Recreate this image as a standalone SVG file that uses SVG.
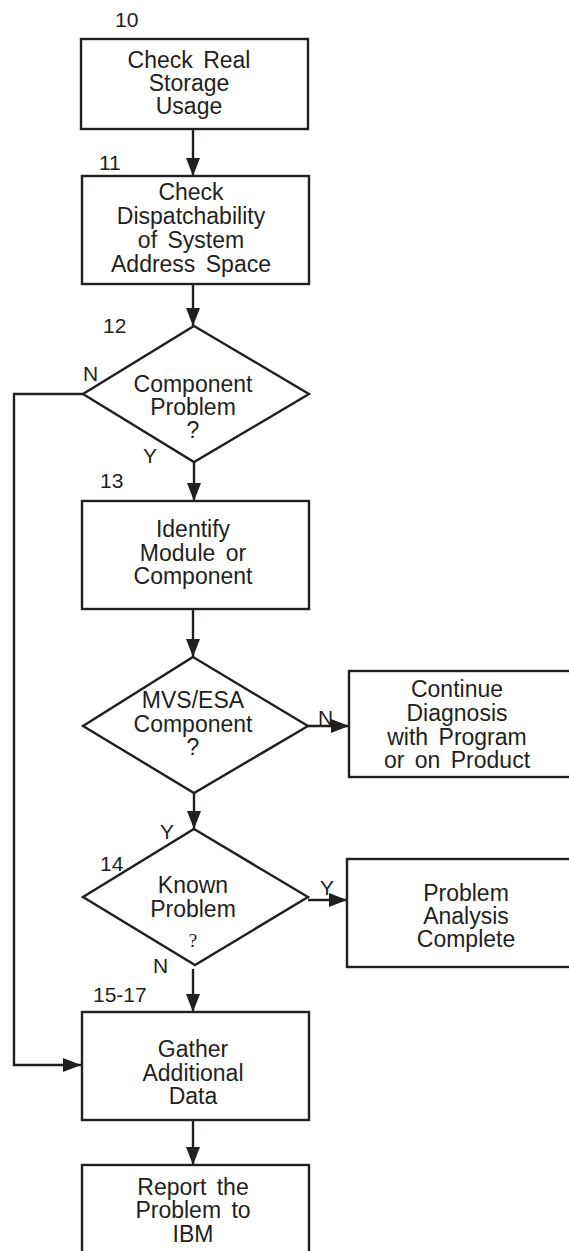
<svg xmlns="http://www.w3.org/2000/svg" width="569" height="1251" viewBox="0 0 569 1251">
<style>
  .shape { fill: #fff; stroke: #231f20; stroke-width: 2.4; }
  .conn { fill: none; stroke: #231f20; stroke-width: 2.4; }
  text { font-family: "Liberation Sans", Arial, sans-serif; font-size: 23px; fill: #231f20; }
  .c { text-anchor: middle; word-spacing: 4px; }
  .lbl { font-size: 21px; }
  .q2 { font-family: "Liberation Serif", serif; font-size: 19px; }
</style>
<defs>
  <marker id="ah" markerUnits="userSpaceOnUse" markerWidth="18" markerHeight="14" refX="18" refY="7" orient="auto">
    <path d="M0,0 L18,7 L0,14 z" fill="#231f20"/>
  </marker>
</defs>
<rect width="569" height="1251" fill="#fff"/>

<g id="connectors">
  <line class="conn" x1="193" y1="129" x2="193" y2="176" marker-end="url(#ah)"/>
  <line class="conn" x1="193" y1="284" x2="193" y2="326" marker-end="url(#ah)"/>
  <line class="conn" x1="194" y1="462" x2="194" y2="501" marker-end="url(#ah)"/>
  <polyline class="conn" points="83,394 14,394 14,1065 81,1065" marker-end="url(#ah)"/>
  <line class="conn" x1="193" y1="609" x2="193" y2="657" marker-end="url(#ah)"/>
  <line class="conn" x1="308" y1="726" x2="349" y2="726" marker-end="url(#ah)"/>
  <line class="conn" x1="194" y1="793" x2="194" y2="829" marker-end="url(#ah)"/>
  <line class="conn" x1="308" y1="900" x2="347" y2="900" marker-end="url(#ah)"/>
  <line class="conn" x1="193" y1="969" x2="193" y2="1012" marker-end="url(#ah)"/>
  <line class="conn" x1="193" y1="1120" x2="193" y2="1165" marker-end="url(#ah)"/>
</g>

<g id="n10">
  <rect class="shape" x="81" y="39" width="227" height="90"/>
  <text class="lbl" x="115" y="27">10</text>
  <text class="c" x="189" y="68">Check Real</text>
  <text class="c" x="189" y="91">Storage</text>
  <text class="c" x="189" y="114">Usage</text>
</g>

<g id="n11">
  <rect class="shape" x="82" y="176" width="227" height="108"/>
  <text class="lbl" x="99" y="170">11</text>
  <text class="c" x="191" y="200">Check</text>
  <text class="c" x="191" y="224">Dispatchability</text>
  <text class="c" x="191" y="248">of System</text>
  <text class="c" x="191" y="272">Address Space</text>
</g>

<g id="n12">
  <polygon class="shape" points="194,326 309,394 194,462 83,394"/>
  <text class="lbl" x="103" y="333">12</text>
  <text class="lbl" x="83" y="381">N</text>
  <text class="lbl" x="143" y="463">Y</text>
  <text class="c" x="193" y="392">Component</text>
  <text class="c" x="193" y="415">Problem</text>
  <text class="c" x="193" y="438">?</text>
</g>

<g id="n13">
  <rect class="shape" x="82" y="501" width="227" height="108"/>
  <text class="lbl" x="100" y="488">13</text>
  <text class="c" x="193" y="537">Identify</text>
  <text class="c" x="193" y="561">Module or</text>
  <text class="c" x="193" y="584">Component</text>
</g>

<g id="mvs">
  <polygon class="shape" points="193,657 308,726 194,793 83,726"/>
  <text class="c" x="193" y="708">MVS/ESA</text>
  <text class="c" x="193" y="732">Component</text>
  <text class="c" x="193" y="755">?</text>
  <text class="lbl" x="318" y="725">N</text>
</g>

<g id="continue">
  <rect class="shape" x="349" y="671" width="222" height="106"/>
  <text class="c" x="457" y="697">Continue</text>
  <text class="c" x="457" y="721">Diagnosis</text>
  <text class="c" x="457" y="745">with Program</text>
  <text class="c" x="457" y="768">or on Product</text>
</g>

<g id="n14">
  <polygon class="shape" points="194,829 308,897 195,965 83,897"/>
  <text class="lbl" x="160" y="839">Y</text>
  <text class="lbl" x="100" y="871">14</text>
  <text class="c" x="193" y="893">Known</text>
  <text class="c" x="193" y="917">Problem</text>
  <text class="c q2" x="193" y="947">?</text>
  <text class="lbl" x="320" y="895">Y</text>
  <text class="lbl" x="153" y="973">N</text>
</g>

<g id="complete">
  <rect class="shape" x="347" y="859" width="224" height="108"/>
  <text class="c" x="466" y="901">Problem</text>
  <text class="c" x="466" y="924">Analysis</text>
  <text class="c" x="466" y="947">Complete</text>
</g>

<g id="n15">
  <rect class="shape" x="82" y="1012" width="227" height="108"/>
  <text class="lbl" x="93" y="1002">15-17</text>
  <text class="c" x="193" y="1057">Gather</text>
  <text class="c" x="193" y="1081">Additional</text>
  <text class="c" x="193" y="1104">Data</text>
</g>

<g id="report">
  <rect class="shape" x="82" y="1165" width="227" height="95"/>
  <text class="c" x="193" y="1195">Report the</text>
  <text class="c" x="193" y="1218">Problem to</text>
  <text class="c" x="193" y="1242">IBM</text>
</g>
</svg>
